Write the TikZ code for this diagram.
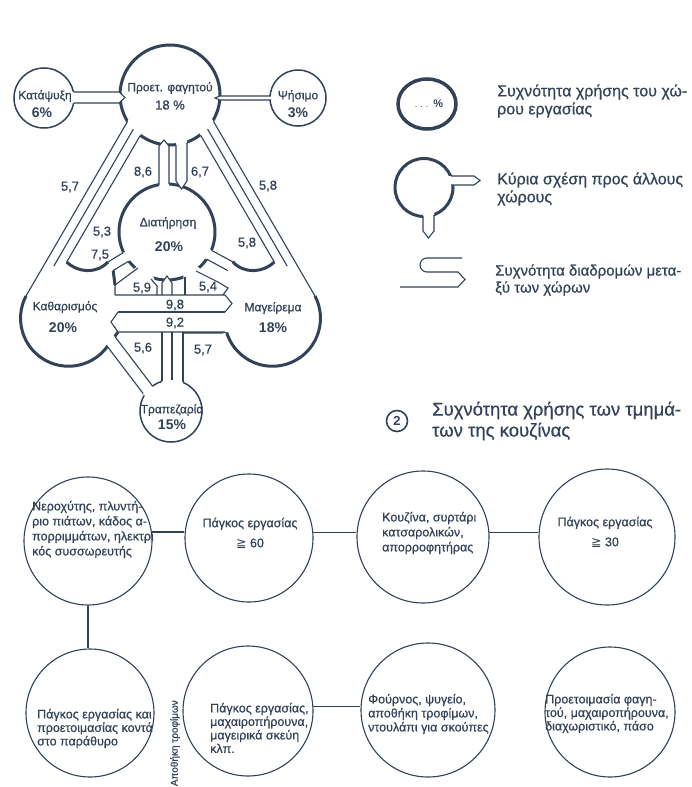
\documentclass[tikz,border=0pt]{standalone}
\usepackage{fontspec}
\setmainfont{Liberation Sans}
\newfontfamily\inkfont[FakeBold=0.6]{Liberation Sans}
\newfontfamily\dejavu{DejaVu Sans}
\definecolor{ink}{RGB}{50,66,88}
\begin{document}
\begin{tikzpicture}[x=1pt,y=-1pt,
  thickroom/.style={draw=ink, line width=3pt},
  wall/.style={draw=ink, line width=1.1pt, line join=miter},
  smallroom/.style={draw=ink, line width=1.5pt, fill=white},
  num/.style={text=ink, font=\inkfont\fontsize{13}{13}\selectfont, inner sep=0pt},
  rname/.style={text=ink, font=\inkfont\fontsize{12}{12}\selectfont, inner sep=0pt},
  pct/.style={text=ink, font=\bfseries\fontsize{14}{14}\selectfont, inner sep=0pt},
  bcircle/.style={circle, draw=ink, line width=1.1pt, minimum size=#1, inner sep=0pt},
  btext/.style={text=ink, font=\inkfont\fontsize{12.5}{15}\selectfont, align=left, inner sep=0pt},
  legtext/.style={text=ink, font=\inkfont\fontsize{16}{18}\selectfont, align=left, inner sep=0pt},
  link/.style={draw=ink, line width=1.1pt}
]
\useasboundingbox (0,0) rectangle (692,787);
\fill[white] (0,0) rectangle (692,787);

% ---------------- rooms
\coordinate (P) at (170,95);
\coordinate (D) at (167,232);
\coordinate (K) at (68,318);
\coordinate (M) at (273,318);
\coordinate (F) at (44,98);
\coordinate (G) at (298,98);
\coordinate (T) at (171,411);

\draw[smallroom] (F) circle (30);
\draw[smallroom] (G) circle (28);
\draw[smallroom] (T) circle (31);
\draw[thickroom, fill=white] (P) circle (50);
\draw[thickroom, fill=white] (D) circle (48);
\draw[thickroom] (26,296) arc[start angle=207.6, end angle=36, radius=48];
\draw[thickroom] (315,296) arc[start angle=-27.6, end angle=165, radius=48] -- (222,332) -- (183,332);

% ---------------- corridor fills
\fill[white] (130,117.2) -- (142.8,131.1) -- (66.7,262) -- (53.9,266) -- (26,296) -- cycle;
\fill[white] (211,117.2) -- (198.2,131.1) -- (274.3,262) -- (287.1,266) -- (315,296) -- cycle;
\fill[white] (70,92) -- (119,92) -- (125,97.5) -- (119,103) -- (70,103) -- cycle;
\fill[white] (214,96) -- (272,96) -- (272,100) -- (214,100) -- cycle;
\fill[white] (159,188) -- (159,146) -- (164,140) -- (169,146) -- (169,188) -- cycle;
\fill[white] (176,140) -- (176,181) -- (181.5,189) -- (187,181) -- (187,138) -- cycle;
\fill[white] (127.7,250) -- (108,261.9) -- (113.2,270.5) -- (132.9,258.6) -- cycle;
\fill[white] (207.2,248) -- (232.7,261.8) -- (227.9,270.6) -- (202.4,256.8) -- cycle;
\fill[white] (140,264) -- (115,285) -- (115,295) -- (157,295) -- (157,286) -- (153,276) -- cycle;
\fill[white] (162,295) -- (162,283) -- (167,275) -- (172,283) -- (172,295) -- cycle;
\fill[white] (183,272) -- (185,295) -- (223,295) -- (228,288) -- (218,282) -- (198,267) -- cycle;
\fill[white] (111,295) -- (225,295) -- (232,303.5) -- (225,312) -- (230,312) -- (230,332) -- (118,332) -- (111,322) -- cycle;
\fill[white] (162,378) rectangle (183,386);
\fill[white] (114.8,336.4) -- (155.2,389.6) -- (145.6,396.8) -- (105.2,343.6) -- cycle;

% ---------------- corridor walls
\draw[wall] (127.5,121.5) -- (26,296);
\draw[wall] (133.4,129.1) -- (53.9,266);
\draw[wall] (140.3,135.4) -- (66.7,262);
\draw[wall] (213.5,121.5) -- (315,296);
\draw[wall] (207.6,129.1) -- (287.1,266);
\draw[wall] (200.7,135.4) -- (274.3,262);
\draw[wall] (73.5,92) -- (119,92) -- (125,97.5) -- (119,103) -- (73.5,103);
\draw[wall] (271,96) -- (220,96) -- (215,98) -- (220,100) -- (271,100);
\draw[wall] (159,185) -- (159,146) -- (164,140) -- (169,146) -- (169,184);
\draw[wall] (176,145) -- (176,181) -- (181.5,189) -- (187,181) -- (187,142.5);
\draw[wall] (123.4,252.6) -- (108,261.9);
\draw[wall] (128.6,261.2) -- (113.2,270.5);
\draw[wall] (211.6,250.4) -- (232.7,261.8);
\draw[wall] (206.8,259.2) -- (227.9,270.6);
\draw[wall] (138,268) -- (115,285) -- (115,295);
\draw[wall] (151,279) -- (157,286) -- (157,295);
\draw[wall] (162,295) -- (162,283) -- (167,276) -- (172,283) -- (172,295);
\draw[wall] (185,277) -- (185,295);
\draw[wall] (196,271) -- (218,282) -- (228,288) -- (223,295);
\draw[wall] (115,295) -- (225,295) -- (232,303.5) -- (225,312);
\draw[wall] (118,312) -- (225,312);
\draw[wall] (225,332) -- (118,332) -- (111,322) -- (118,312);
\draw[wall] (162,332) -- (162,381.3);
\draw[wall] (172,332) -- (172,380);
\draw[wall] (183,332) -- (183,382.4);
\draw[wall] (114.8,336.4) -- (152.8,386.4);
\draw[wall] (106.3,345.1) -- (143.2,393.6);
\draw[thickroom] (66.7,262) .. controls (78,273) and (97,274) .. (108,261.9);
\draw[thickroom] (232.7,261.8) .. controls (244,274) and (263,273) .. (274.3,262);
\draw[thickroom] (113.2,270.5) -- (115,285);
\draw[thickroom] (114.8,336.4) -- (118,332);

% ---------------- room texts
\node[rname] at (170,88) {Προετ. φαγητού};
\node[num] at (170,105) {18 \%};
\node[rname] at (45,96) {Κατάψυξη};
\node[pct] at (42,113) {6\%};
\node[rname] at (298,96) {Ψήσιμο};
\node[pct] at (298,113) {3\%};
\node[rname] at (168,223) {Διατήρηση};
\node[pct] at (169,247) {20\%};
\node[rname] at (65,307) {Καθαρισμός};
\node[pct] at (63,328) {20\%};
\node[rname] at (273,308) {Μαγείρεμα};
\node[pct] at (273,328) {18\%};
\node[rname] at (172,410) {Τραπεζαρία};
\node[pct] at (172,425) {15\%};

% ---------------- frequencies
\node[num] at (70,187) {5,7};
\node[num] at (143,172) {8,6};
\node[num] at (200,172) {6,7};
\node[num] at (268,186) {5,8};
\node[num] at (102,232) {5,3};
\node[num] at (100,255) {7,5};
\node[num] at (247,243) {5,8};
\node[num] at (142,288) {5,9};
\node[num] at (208,287) {5,4};
\node[num] at (175,305) {9,8};
\node[num] at (175,323) {9,2};
\node[num] at (143,348) {5,6};
\node[num] at (203,350) {5,7};

% ---------------- legend
\draw[draw=ink, line width=3.5pt] (427,104) ellipse [x radius=29, y radius=25];
\node[text=ink, inner sep=0pt] at (429,104) {\fontsize{9}{9}\selectfont .\hspace{3pt}.\hspace{3pt}.\hspace{5pt}{\bfseries\fontsize{11}{11}\selectfont\%}};
\node[legtext, anchor=west] (leg1) at (497,101) {Συχνότητα χρήσης του χώ-\\ρου εργασίας};

\draw[thickroom, fill=white] (424,187.5) circle (29);
\fill[white] (449,176) -- (474,176) -- (480,180.5) -- (474,185) -- (449,185) -- cycle;
\fill[white] (423,213) -- (423,231) -- (428.5,238) -- (434,231) -- (434,213) -- cycle;
\draw[wall] (451,176) -- (474,176) -- (480,180.5) -- (474,185) -- (451,185);
\draw[wall] (423,216) -- (423,231) -- (428.5,238) -- (434,231) -- (434,215);
\node[legtext, anchor=west] (leg2) at (497,189) {Κύρια σχέση προς άλλους\\χώρους};

\draw[wall] (462,258) -- (427,258) arc[start angle=270, end angle=90, radius=7] -- (458,272) -- (465,279.5) -- (458,287) -- (400,287);
\node[legtext, font=\inkfont\fontsize{15}{17}\selectfont, anchor=west] (leg3) at (495,280) {Συχνότητα διαδρομών μετα-\\ξύ των χώρων};

% ---------------- title 2
\node[circle, draw=ink, line width=1.6pt, minimum size=21pt, inner sep=0pt, text=ink, font=\bfseries\fontsize{13}{13}\selectfont] (two) at (397,421) {2};
\node[legtext, font=\inkfont\fontsize{18.5}{21}\selectfont, anchor=west] (ttl) at (432,421) {Συχνότητα χρήσης των τμημά-\\των της κουζίνας};

% ---------------- bottom circles
\node[bcircle=128pt] (c1) at (88,541) {};
\node[bcircle=128pt] (c2) at (249,538) {};
\node[bcircle=132pt] (c3) at (423,537) {};
\node[bcircle=136pt] (c4) at (607,537) {};
\node[bcircle=128pt] (c5) at (90,713) {};
\node[bcircle=130pt] (c6) at (248,711) {};
\node[bcircle=134pt] (c7) at (428,710) {};
\node[bcircle=130pt] (c8) at (610,712) {};

\draw[link] (c1.8) -- (c1.8 -| c2.west);
\draw[link] (c2.5) -- (c2.5 -| c3.west);
\draw[link] (c3.4) -- (c3.4 -| c4.west);
\draw[link] (c1.south) -- (c1.south |- c5.north);
\draw[link] (c6.4) -- (c6.4 -| c7.west);

\node[btext, anchor=west] (t1) at (32,529.5) {Νεροχύτης, πλυντή-\\ριο πιάτων, κάδος α-\\πορριμμάτων, ηλεκτρι\\κός συσσωρευτής};
\node[btext, align=center, font=\inkfont\fontsize{12.5}{20}\selectfont] (t2) at (250,533) {Πάγκος εργασίας\\{\dejavu ≧} 60};
\node[btext, anchor=west] (t3) at (382,533) {Κουζίνα, συρτάρι\\κατσαρολικών,\\απορροφητήρας};
\node[btext, align=center, font=\inkfont\fontsize{12.5}{20}\selectfont] (t4) at (605,532) {Πάγκος εργασίας\\{\dejavu ≧} 30};
\node[btext, anchor=west, font=\inkfont\fontsize{12.5}{13.5}\selectfont] (t5) at (37,728.5) {Πάγκος εργασίας και\\προετοιμασίας κοντά\\στο παράθυρο};
\node[btext, anchor=west, font=\inkfont\fontsize{12.5}{13.5}\selectfont] (t6) at (210,728) {Πάγκος εργασίας,\\μαχαιροπήρουνα,\\μαγειρικά σκεύη\\κλπ.};
\node[btext, anchor=west, font=\inkfont\fontsize{12.5}{14}\selectfont] (t7) at (368,714) {Φούρνος, ψυγείο,\\αποθήκη τροφίμων,\\ντουλάπι για σκούπες};
\node[btext, anchor=west, font=\inkfont\fontsize{12.5}{13.5}\selectfont] (t8) at (545,713.5) {Προετοιμασία φαγη-\\τού, μαχαιροπήρουνα,\\διαχωριστικό, πάσο};
\node[text=ink, font=\inkfont\fontsize{10}{10}\selectfont, rotate=90, anchor=east, inner sep=0pt] (store) at (175,700) {Αποθήκη τροφίμων};
\end{tikzpicture}
\end{document}
